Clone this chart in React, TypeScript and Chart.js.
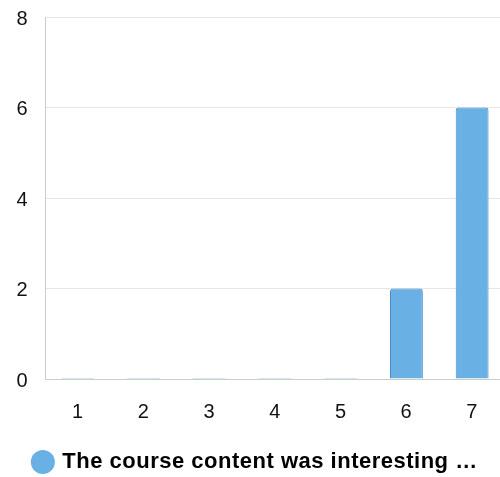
import React, { useEffect, useRef } from "react";
import { Chart, registerables } from "chart.js";

Chart.register(...registerables);

const categories = ["1", "2", "3", "4", "5", "6", "7"];
const seriesLabel = "The course content was interesting …";
const seriesValues = [0, 0, 0, 0, 0, 2, 6];
const yTicks = [0, 2, 4, 6, 8];

const spacingPlugin = {
  id: "letterSpacing",
  beforeUpdate(chart: any) {
    if ("letterSpacing" in chart.ctx) chart.ctx.letterSpacing = "0.5px";
  },
  beforeDraw(chart: any) {
    if ("letterSpacing" in chart.ctx) chart.ctx.letterSpacing = "0.5px";
  },
};

export default function App() {
  const ref = useRef<HTMLCanvasElement | null>(null);
  useEffect(() => {
    if (!ref.current) return;
    const chart = new Chart(ref.current, {
      type: "bar",
      plugins: [spacingPlugin],
      data: {
        labels: categories,
        datasets: [
          {
            label: seriesLabel,
            data: seriesValues,
            backgroundColor: "#69b0e4",
            borderColor: "#4a8fc8",
            borderWidth: 1,
            borderRadius: 3,
            borderSkipped: "bottom",
            minBarLength: 1,
            categoryPercentage: 1,
            barPercentage: 0.5,
          },
        ],
      },
      options: {
        animation: false,
        responsive: false,
        maintainAspectRatio: false,
        layout: { padding: { top: 0, right: 0, left: 7, bottom: -6 } },
        scales: {
          x: {
            grid: { display: false, drawTicks: false },
            border: { color: "#cccccc" },
            ticks: { font: { family: "'Liberation Sans', Arial", size: 20 }, color: "#111", padding: 21 },
            afterFit: (s: any) => {
              s.height = 67.5;
            },
          },
          y: {
            min: 0,
            max: 8,
            afterBuildTicks: (s: any) => {
              s.ticks = yTicks.map((v) => ({ value: v }));
            },
            afterFit: (s: any) => {
              s.width = 38;
            },
            grid: { color: "#e6e6e6", drawTicks: true, tickLength: 12, tickColor: "rgba(0,0,0,0)" },
            border: { color: "#cccccc" },
            ticks: {
              font: { family: "'Liberation Sans', Arial", size: 20 },
              color: "#111",
              padding: 5,
              labelOffset: 2,
            },
          },
        },
        plugins: {
          legend: {
            position: "bottom",
            labels: {
              usePointStyle: true,
              pointStyle: "circle",
              boxWidth: 17,
              boxHeight: 17,
              padding: 4.5,
              color: "#000",
              font: { family: "'Liberation Sans', Arial", size: 22, weight: "bold" },
              generateLabels: (c: any) =>
                Chart.defaults.plugins.legend.labels.generateLabels(c).map((l: any) => ({
                  ...l,
                  lineWidth: 0,
                  strokeStyle: "rgba(0,0,0,0)",
                })),
            },
          },
          tooltip: { enabled: false },
        },
      },
    });
    return () => chart.destroy();
  }, []);
  return (
    <div style={{ position: "absolute", left: 0, top: 0, width: 500, height: 477, overflow: "hidden" }}>
      <canvas ref={ref} width={505} height={477} />
    </div>
  );
}
